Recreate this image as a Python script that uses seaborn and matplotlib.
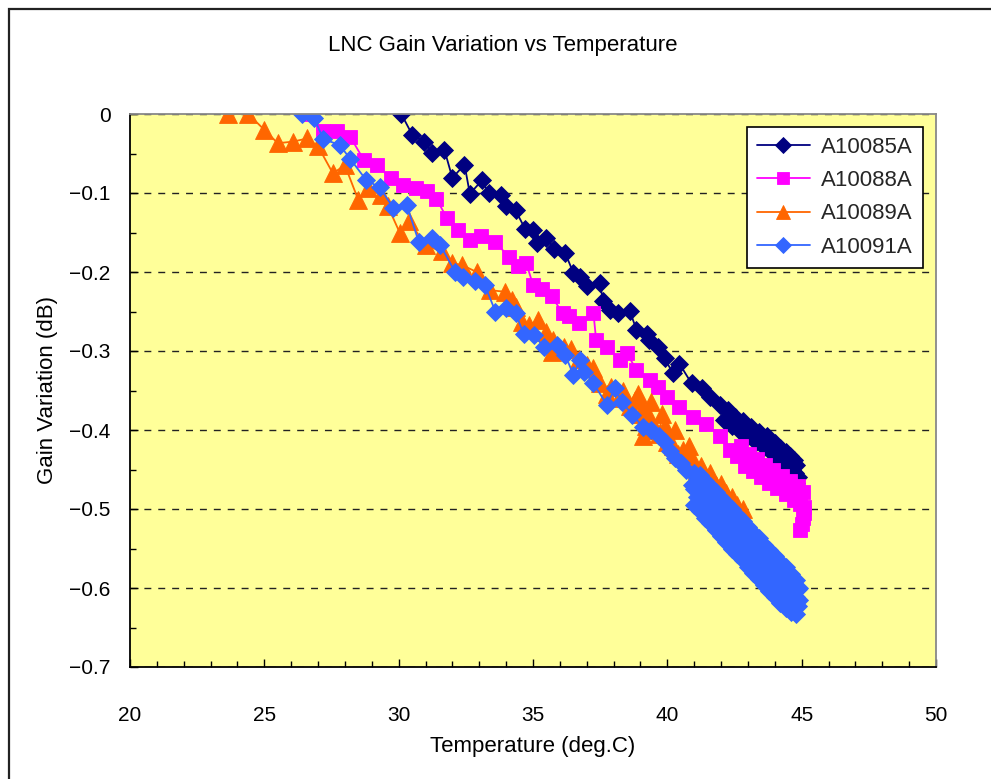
import pandas as pd
import seaborn as sns
import matplotlib.pyplot as plt
from matplotlib.patches import Rectangle
from matplotlib.ticker import FixedLocator, FixedFormatter, MultipleLocator

title = 'LNC Gain Variation vs Temperature'
x_title = 'Temperature (deg.C)'
y_title = 'Gain Variation (dB)'

x_ticks = [20, 25, 30, 35, 40, 45, 50]
x_tick_labels = ['20', '25', '30', '35', '40', '45', '50']
y_ticks = [0, -0.1, -0.2, -0.3, -0.4, -0.5, -0.6, -0.7]
y_tick_labels = ['0', '\u22120.1', '\u22120.2', '\u22120.3', '\u22120.4', '\u22120.5', '\u22120.6', '\u22120.7']

names = ['A10085A', 'A10088A', 'A10089A', 'A10091A']

# A10085A
t_85 = [30.1, 30.5, 30.95, 31.25, 31.7, 32.0, 32.45, 32.65, 33.1, 33.35, 33.8, 34.0,
        34.35, 34.7, 35.0, 35.15, 35.5, 35.8, 36.2, 36.5, 36.75, 37.0, 37.5, 37.6,
        37.85, 38.15, 38.6, 38.85, 39.25, 39.3, 39.65, 39.9, 40.2, 40.45, 40.9, 41.3,
        41.6, 41.95, 42.1, 42.25, 42.4, 42.5, 42.7, 42.8, 43.0, 43.1, 43.3, 43.4,
        43.6, 43.7, 43.85, 44.0, 44.1, 44.2, 44.3, 44.4, 44.5, 44.55, 44.65, 44.7,
        44.75, 44.8, 44.85, 44.8]
g_85 = [0, -0.026, -0.035, -0.049, -0.045, -0.081, -0.064, -0.101, -0.084, -0.100, -0.103, -0.117,
        -0.122, -0.145, -0.147, -0.163, -0.157, -0.171, -0.176, -0.201, -0.206, -0.218, -0.214, -0.237,
        -0.248, -0.252, -0.249, -0.273, -0.278, -0.286, -0.295, -0.309, -0.328, -0.316, -0.341, -0.347,
        -0.358, -0.368, -0.387, -0.375, -0.395, -0.383, -0.401, -0.388, -0.408, -0.396, -0.415, -0.403,
        -0.421, -0.408, -0.428, -0.416, -0.435, -0.423, -0.441, -0.428, -0.446, -0.433, -0.451, -0.438,
        -0.455, -0.444, -0.460, -0.467]

# A10088A
t_88 = [26.7, 27.2, 27.7, 28.2, 28.7, 29.2, 29.7, 30.15, 30.65, 31.05, 31.4, 31.8,
        32.2, 32.65, 33.05, 33.6, 34.1, 34.45, 34.75, 35.0, 35.35, 35.7, 36.1, 36.35,
        36.7, 37.25, 37.35, 37.75, 38.25, 38.5, 38.85, 39.35, 39.65, 40.0, 40.45, 40.95,
        41.45, 41.95, 42.35, 42.6, 42.75, 42.9, 43.05, 43.2, 43.35, 43.5, 43.65, 43.8,
        43.95, 44.1, 44.25, 44.4, 44.55, 44.7, 44.85, 44.95, 45.05, 45.1, 45.1, 45.05,
        45.0, 44.95]
g_88 = [0, -0.022, -0.022, -0.029, -0.058, -0.065, -0.081, -0.090, -0.094, -0.098, -0.107, -0.132,
        -0.147, -0.160, -0.155, -0.162, -0.181, -0.193, -0.189, -0.216, -0.222, -0.231, -0.252, -0.256,
        -0.265, -0.252, -0.286, -0.295, -0.311, -0.303, -0.324, -0.337, -0.345, -0.358, -0.371, -0.383,
        -0.392, -0.408, -0.425, -0.433, -0.420, -0.445, -0.430, -0.452, -0.437, -0.460, -0.444, -0.467,
        -0.451, -0.474, -0.458, -0.481, -0.464, -0.488, -0.471, -0.494, -0.478, -0.497, -0.505, -0.512,
        -0.519, -0.526]

# A10089A
t_89 = [23.65, 24.4, 25.0, 25.5, 26.05, 26.6, 27.0, 27.55, 28.0, 28.5, 28.85, 29.35,
        29.6, 30.05, 30.4, 31.0, 31.6, 32.0, 32.35, 32.9, 33.4, 33.95, 34.2, 34.35,
        34.6, 34.85, 35.2, 35.5, 35.7, 35.75, 36.15, 36.4, 36.7, 37.0, 37.25, 37.5,
        37.75, 37.9, 38.2, 38.35, 38.6, 38.9, 38.8, 39.0, 39.1, 39.4, 39.2, 39.35,
        39.5, 39.1, 39.7, 39.8, 39.9, 40.0, 40.3, 40.2, 40.4, 40.6, 40.8, 40.75,
        40.9, 41.1, 41.25, 41.45, 41.6, 41.8, 42.0, 42.2, 42.4, 42.6, 42.8]
g_89 = [0, 0, -0.020, -0.037, -0.035, -0.031, -0.041, -0.075, -0.065, -0.109, -0.094, -0.103,
        -0.117, -0.151, -0.136, -0.166, -0.174, -0.189, -0.191, -0.200, -0.223, -0.225, -0.235, -0.244,
        -0.263, -0.267, -0.261, -0.276, -0.301, -0.286, -0.295, -0.297, -0.310, -0.318, -0.322, -0.340,
        -0.354, -0.345, -0.360, -0.350, -0.370, -0.355, -0.362, -0.380, -0.372, -0.365, -0.395, -0.385,
        -0.400, -0.408, -0.405, -0.380, -0.395, -0.415, -0.400, -0.420, -0.430, -0.425, -0.420, -0.440,
        -0.435, -0.450, -0.445, -0.460, -0.455, -0.470, -0.468, -0.480, -0.485, -0.495, -0.500]

# A10091A
t_91 = [26.4, 26.85, 27.2, 27.8, 28.2, 28.8, 29.3, 29.8, 30.3, 30.75, 31.25, 31.55,
        32.1, 32.4, 32.85, 33.2, 33.6, 34.0, 34.35, 34.65, 35.05, 35.4, 35.9, 36.2,
        36.5, 36.75, 36.9, 37.25, 37.75, 38.05, 38.3, 38.7, 39.1, 39.4, 39.7, 39.9,
        40.1, 40.3, 40.5, 40.7, 40.9,
        41.0, 41.1, 41.0, 41.1, 41.0,  41.2, 41.3, 41.2, 41.3, 41.2,
        41.4, 41.5, 41.4, 41.5, 41.4,  41.6, 41.7, 41.6, 41.7, 41.6,
        41.8, 41.9, 41.8, 41.9, 41.8,  42.0, 42.1, 42.0, 42.1, 42.0,
        42.2, 42.3, 42.2, 42.3, 42.2,  42.4, 42.5, 42.4, 42.5, 42.4,
        42.6, 42.7, 42.6, 42.7, 42.6,  42.8, 42.9, 42.8, 42.9, 42.8,
        43.0, 43.1, 43.0, 43.1, 43.0,  43.2, 43.3, 43.2, 43.3, 43.2,
        43.4, 43.5, 43.4, 43.5, 43.4,  43.6, 43.7, 43.6, 43.7, 43.6,
        43.8, 43.9, 43.8, 43.9, 43.8,  44.0, 44.1, 44.0, 44.1, 44.0,
        44.2, 44.3, 44.2, 44.3, 44.2,  44.4, 44.5, 44.4, 44.5, 44.4,
        44.6, 44.7, 44.6, 44.7, 44.6,  44.8, 44.85, 44.8, 44.85, 44.8,
        44.9, 44.9]
g_91 = [0, -0.005, -0.032, -0.039, -0.057, -0.084, -0.093, -0.119, -0.115, -0.162, -0.157, -0.166,
        -0.200, -0.206, -0.212, -0.216, -0.250, -0.246, -0.252, -0.278, -0.280, -0.295, -0.292, -0.305,
        -0.330, -0.311, -0.326, -0.341, -0.368, -0.347, -0.364, -0.381, -0.396, -0.400, -0.408, -0.415,
        -0.427, -0.435, -0.442, -0.450, -0.470,
        -0.455, -0.465, -0.475, -0.485, -0.495,  -0.503, -0.491, -0.478, -0.468, -0.457,
        -0.464, -0.476, -0.488, -0.500, -0.511,  -0.518, -0.506, -0.494, -0.483, -0.471,
        -0.478, -0.491, -0.503, -0.515, -0.527,  -0.534, -0.522, -0.510, -0.498, -0.486,
        -0.493, -0.505, -0.517, -0.530, -0.542,  -0.550, -0.538, -0.525, -0.513, -0.500,
        -0.508, -0.520, -0.532, -0.545, -0.557,  -0.565, -0.553, -0.540, -0.528, -0.515,
        -0.523, -0.535, -0.547, -0.560, -0.573,  -0.581, -0.569, -0.556, -0.543, -0.530,
        -0.537, -0.550, -0.562, -0.576, -0.589,  -0.596, -0.583, -0.570, -0.558, -0.545,
        -0.552, -0.565, -0.578, -0.591, -0.604,  -0.612, -0.598, -0.585, -0.572, -0.559,
        -0.567, -0.580, -0.592, -0.606, -0.619,  -0.625, -0.613, -0.600, -0.587, -0.574,
        -0.582, -0.595, -0.607, -0.619, -0.630,  -0.633, -0.623, -0.612, -0.601, -0.590,
        -0.600, -0.615]

temps = [t_85, t_88, t_89, t_91]
gains = [g_85, g_88, g_89, g_91]
colors = ['#000080', '#FF00FF', '#FF6600', '#3366FF']
markers = ['D', 's', '^', 'D']
sizes = [9.5, 10.5, 12.5, 9.5]

sns.set_theme(style='white')
plt.rcParams['font.family'] = ['Liberation Sans', 'DejaVu Sans']

fig = plt.figure(figsize=(9.91, 7.79), dpi=100)
ax = fig.add_axes([130 / 991, 1 - 667 / 779, 806 / 991, 553 / 779])
ax.set_facecolor('#FFFF99')

for name, t, g, c, m, s in zip(names, temps, gains, colors, markers, sizes):
    df = pd.DataFrame({'T': t, 'G': g})
    sns.lineplot(data=df, x='T', y='G', sort=False, estimator=None, ax=ax,
                 color=c, marker=m, markersize=s, markeredgecolor=c,
                 markeredgewidth=0.6, linewidth=1.3, label=name)

ax.set_xlim(20, 50)
ax.set_ylim(-0.7, 0)
ax.xaxis.set_major_locator(FixedLocator(x_ticks))
ax.xaxis.set_major_formatter(FixedFormatter(x_tick_labels))
ax.xaxis.set_minor_locator(MultipleLocator(1))
ax.yaxis.set_major_locator(FixedLocator(y_ticks))
ax.yaxis.set_major_formatter(FixedFormatter(y_tick_labels))
ax.yaxis.set_minor_locator(MultipleLocator(0.05))

ax.tick_params(axis='both', which='major', direction='in', length=6, width=1,
               color='black', labelsize=15, labelcolor='black')
ax.tick_params(axis='both', which='minor', direction='in', length=4, width=1, color='black')
ax.tick_params(axis='x', which='both', pad=28, top=False, bottom=True)
ax.tick_params(axis='y', which='both', pad=14, left=True, right=False)

ax.yaxis.grid(True, linestyle=(0, (5, 5)), color='#222222', linewidth=1)
ax.xaxis.grid(False)
ax.set_axisbelow(True)

for side in ['left', 'bottom']:
    ax.spines[side].set_color('black')
    ax.spines[side].set_linewidth(1.3)
for side in ['top', 'right']:
    ax.spines[side].set_color('#888888')
    ax.spines[side].set_linewidth(1.3)

ax.set_xlabel(x_title, fontsize=16, color='black', labelpad=8)
ax.set_ylabel(y_title, fontsize=16, color='black', labelpad=8)
fig.text(503 / 991, 1 - 46 / 779, title, ha='center', va='center', fontsize=16, color='black')

leg = ax.legend(loc='upper right', bbox_to_anchor=(923 / 991, 1 - 127 / 779),
                bbox_transform=fig.transFigure, borderaxespad=0, frameon=True,
                fancybox=False, edgecolor='black', facecolor='white', framealpha=1,
                fontsize=16, handlelength=2.4, handletextpad=0.5, labelspacing=0.55,
                borderpad=0.45, markerscale=0.85)
leg.get_frame().set_linewidth(1.2)

fig.add_artist(Rectangle((8.5 / 991, -0.1), 1.2, 1.1 - 9.5 / 779,
                         transform=fig.transFigure, fill=False,
                         edgecolor='#222222', linewidth=1.6, clip_on=False))

fig.savefig('out.png', dpi=100)
